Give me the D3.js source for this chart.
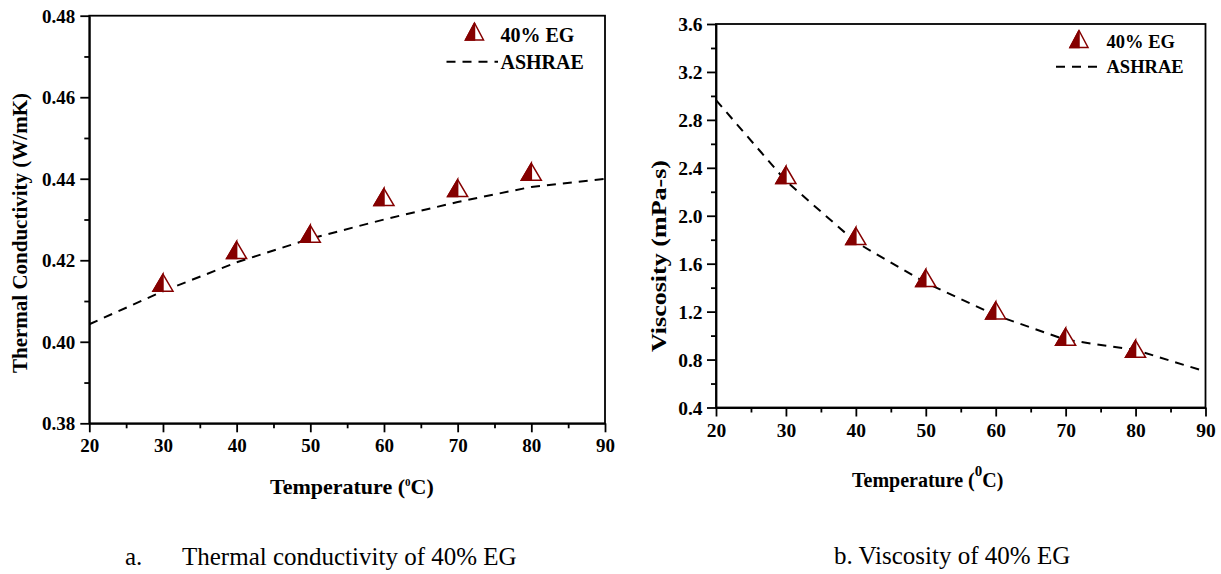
<!DOCTYPE html>
<html><head><meta charset="utf-8">
<script src="https://cdn.jsdelivr.net/npm/d3@7"></script>
<style>
body{margin:0;background:#fff;}
svg{display:block;}
text{font-family:"Liberation Serif","Times New Roman",serif;}
</style>
</head><body>
<svg id="c" width="1221" height="574"></svg>
<script>
// ---------- data ----------
const temps = [30, 40, 50, 60, 70, 80];
const kEG = [0.4145, 0.4225, 0.4265, 0.4355, 0.4377, 0.4417];
const ashraeT = [20, 30, 40, 50, 60, 70, 80, 90];
const kASHRAE = [0.4043, 0.4124, 0.4195, 0.4253, 0.4300, 0.4343, 0.4380, 0.4400];
const muEG = [2.34, 1.83, 1.48, 1.21, 0.99, 0.89];
const muASHRAE = [2.965, 2.29, 1.78, 1.44, 1.17, 0.965, 0.88, 0.70];
const xTicks = [20, 30, 40, 50, 60, 70, 80, 90];
const kTicks = [0.38, 0.40, 0.42, 0.44, 0.46, 0.48];
const muTicks = [0.4, 0.8, 1.2, 1.6, 2.0, 2.4, 2.8, 3.2, 3.6];
const seriesNames = ["40% EG", "ASHRAE"];
const xTitle = ["Temperature (", "0", "C)"];
const yTitles = ["Thermal Conductivity (W/mK)", "Viscosity (mPa-s)"];
const captionA = ["a.", "Thermal conductivity of 40% EG"];
const captionB = "b. Viscosity of 40% EG";

// ---------- drawing ----------
const svg = d3.select("#c");
svg.append("rect").attr("width", 1221).attr("height", 574).attr("fill", "#fff");
const RED = "#850000";
const mid = a => a.slice(1).map((v, i) => (v + a[i]) / 2);

function triangle(g, cx, cy, w, h) {
  const t = g.append("g").attr("transform", `translate(${cx},${cy})`);
  t.append("path").attr("d", `M0,${-h/2}L${w/2},${h/2}L${-w/2},${h/2}Z`)
    .attr("fill", "#fff").attr("stroke", RED).attr("stroke-width", 1.5).attr("stroke-linejoin", "miter");
  t.append("path").attr("d", `M0,${-h/2}L0,${h/2}L${-w/2},${h/2}Z`).attr("fill", RED)
    .attr("stroke", RED).attr("stroke-width", 1.5);
}

function panel(o) {
  const g = svg.append("g");
  const x = d3.scaleLinear().domain([xTicks[0], xTicks[xTicks.length - 1]]).range([o.L, o.R]);
  const y = d3.scaleLinear().domain([o.yTicks[0], o.yTicks[o.yTicks.length - 1]]).range([o.B, o.T]);
  const style = s => {
    s.selectAll("line").attr("stroke", "#000").attr("stroke-width", 1.8);
    s.selectAll("path.domain").attr("stroke", "#000").attr("stroke-width", 1.8);
    s.selectAll("text").attr("fill", "#000").attr("font-weight", "bold")
      .attr("font-size", o.tickFont).attr("font-family", '"Liberation Serif","Times New Roman",serif');
  };
  // minor ticks
  g.append("g").attr("transform", `translate(0,${o.B})`)
    .call(d3.axisBottom(x).tickValues(mid(xTicks)).tickSize(5).tickFormat(""))
    .call(s => s.select(".domain").remove()).call(style);
  g.append("g").attr("transform", `translate(${o.L},0)`)
    .call(d3.axisLeft(y).tickValues(mid(o.yTicks)).tickSize(5).tickFormat(""))
    .call(s => s.select(".domain").remove()).call(style);
  // major axes
  const xa = g.append("g").attr("transform", `translate(0,${o.B})`)
    .call(d3.axisBottom(x).tickValues(xTicks).tickSize(9).tickSizeOuter(0).tickFormat(d3.format("d")))
    .call(style);
  xa.selectAll("text").attr("y", o.xLabBase - o.B).attr("dy", 0);
  const ya = g.append("g").attr("transform", `translate(${o.L},0)`)
    .call(d3.axisLeft(y).tickValues(o.yTicks).tickSize(9).tickSizeOuter(0).tickFormat(d3.format(o.fmt)))
    .call(style);
  ya.selectAll("text").attr("x", -o.yLabGap).attr("dy", "0.34em");
  // frame
  g.append("rect").attr("x", o.L).attr("y", o.T).attr("width", o.R - o.L).attr("height", o.B - o.T)
    .attr("fill", "none").attr("stroke", "#000").attr("stroke-width", 1.8);
  // ASHRAE dashed line
  const line = d3.line().x((d, i) => x(ashraeT[i])).y(d => y(d));
  g.append("path").datum(o.line).attr("d", line).attr("fill", "none")
    .attr("stroke", "#000").attr("stroke-width", 2).attr("stroke-dasharray", "9,7");
  // markers
  o.pts.forEach((v, i) => triangle(g, x(temps[i]), y(v), 20, 17));
  // legend
  const lg = o.leg;
  triangle(g, lg.tx, lg.ty, 18, 17);
  g.append("text").attr("x", lg.textX).attr("y", lg.b1).attr("font-weight", "bold")
    .attr("font-size", lg.fs).text(seriesNames[0]);
  g.append("line").attr("x1", lg.dx1).attr("x2", lg.dx2).attr("y1", lg.dy).attr("y2", lg.dy)
    .attr("stroke", "#000").attr("stroke-width", 2).attr("stroke-dasharray", "9,7");
  g.append("text").attr("x", lg.textX).attr("y", lg.b2).attr("font-weight", "bold")
    .attr("font-size", lg.fs).text(seriesNames[1]);
  // x title
  const xt = g.append("text").attr("x", o.xtX).attr("y", o.xtY).attr("font-weight", "bold")
    .attr("font-size", o.xtFs);
  xt.append("tspan").text(xTitle[0]);
  xt.append("tspan").attr("font-size", o.supFs).attr("dy", -o.supUp).text(xTitle[1]);
  xt.append("tspan").attr("dy", o.supUp).text(xTitle[2]);
  // y title
  const yt = g.append("text").attr("transform", `translate(${o.ytX},${o.ytY}) rotate(-90)`)
    .attr("text-anchor", "middle").attr("dominant-baseline", "central")
    .attr("font-weight", "bold").attr("font-size", o.ytFs).text(o.ytText);
  if (o.ytLen) yt.attr("textLength", o.ytLen).attr("lengthAdjust", "spacingAndGlyphs");
}

panel({
  L: 89.3, R: 605, T: 15.7, B: 423.3,
  yTicks: kTicks, fmt: ".2f", tickFont: 19, xLabBase: 452, yLabGap: 14,
  line: kASHRAE, pts: kEG,
  leg: {tx: 474.5, ty: 31.5, textX: 500.5, b1: 41.5, b2: 68.5, dx1: 446.5, dx2: 498, dy: 61.7, fs: 20},
  xtX: 270, xtY: 494, xtFs: 22, supFs: 11, supUp: 8,
  ytX: 20, ytY: 233, ytFs: 21, ytText: yTitles[0]
});

panel({
  L: 716, R: 1205.5, T: 24, B: 407.5,
  yTicks: muTicks, fmt: ".1f", tickFont: 19.5, xLabBase: 437, yLabGap: 13.5,
  line: muASHRAE, pts: muEG,
  leg: {tx: 1079, ty: 39, textX: 1106.5, b1: 48, b2: 72.5, dx1: 1056, dx2: 1102, dy: 66.7, fs: 18.5},
  xtX: 852, xtY: 486.5, xtFs: 20, supFs: 15, supUp: 11,
  ytX: 659, ytY: 256, ytFs: 21, ytText: yTitles[1], ytLen: 192
});

// captions
svg.append("text").attr("x", 125).attr("y", 565).attr("font-size", 25).text(captionA[0]);
svg.append("text").attr("x", 182).attr("y", 565).attr("font-size", 25).text(captionA[1]);
svg.append("text").attr("x", 834).attr("y", 564).attr("font-size", 25).text(captionB);
</script>
</body></html>
